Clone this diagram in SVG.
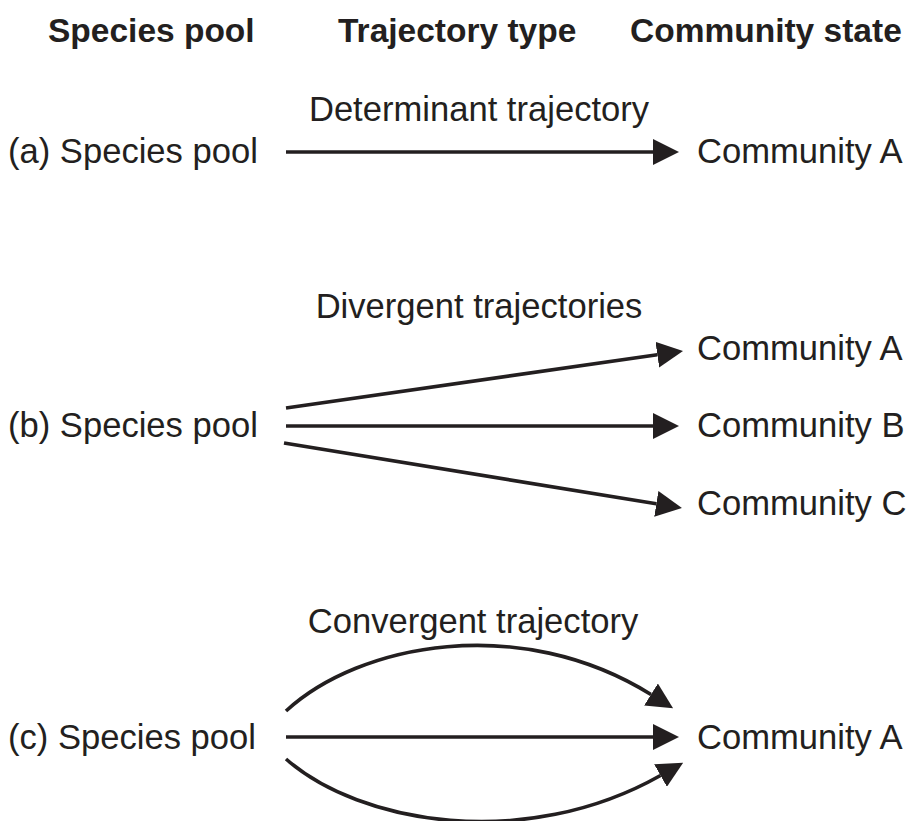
<svg xmlns="http://www.w3.org/2000/svg" width="907" height="821" viewBox="0 0 907 821">
<style>
.h{font-family:"Liberation Sans",Arial,sans-serif;font-weight:bold;font-size:33.5px;fill:#231f20}
.t{font-family:"Liberation Sans",Arial,sans-serif;font-size:34.6px;fill:#231f20}
.m{text-anchor:middle}
.c{fill:none;stroke:#231f20;stroke-width:3.6}
</style>
<defs>
<marker id="ah" viewBox="0 0 26 26" refX="0" refY="13" markerWidth="26" markerHeight="26" markerUnits="userSpaceOnUse" orient="auto">
<path d="M0,0 L26,13 L0,26 z" fill="#231f20"/>
</marker>
</defs>
<rect width="907" height="821" fill="#fff"/>
<g id="headers">
<text class="h" x="48" y="42">Species pool</text>
<text class="h" x="338" y="42">Trajectory type</text>
<text class="h" x="630" y="42">Community state</text>
</g>
<g id="pool-a"><text class="t" x="8" y="163">(a) Species pool</text></g>
<g id="comm-a1"><text class="t" x="697" y="163">Community A</text></g>
<g id="label-a"><text class="t m" x="479" y="121">Determinant trajectory</text></g>
<g id="pool-b"><text class="t" x="8" y="437">(b) Species pool</text></g>
<g id="comm-b1"><text class="t" x="697" y="360">Community A</text></g>
<g id="comm-b2"><text class="t" x="697" y="437">Community B</text></g>
<g id="comm-b3"><text class="t" x="697" y="515">Community C</text></g>
<g id="label-b"><text class="t m" x="479" y="318">Divergent trajectories</text></g>
<g id="pool-c"><text class="t" x="8" y="749">(c) Species pool</text></g>
<g id="comm-c1"><text class="t" x="697" y="749">Community A</text></g>
<g id="label-c"><text class="t m" x="473" y="633">Convergent trajectory</text></g>
<g id="connectors">
<path class="c" marker-end="url(#ah)" d="M286,152 L653,152"/>
<path class="c" marker-end="url(#ah)" d="M286,408 L657.3,354.7"/>
<path class="c" marker-end="url(#ah)" d="M286,426 L653,426"/>
<path class="c" marker-end="url(#ah)" d="M284,443 L656.3,503.8"/>
<path class="c" marker-end="url(#ah)" d="M286,711 C360,643 520,613 651,694.5"/>
<path class="c" marker-end="url(#ah)" d="M286,737 L653,737"/>
<path class="c" marker-end="url(#ah)" d="M286,759 C360,824 525,852 660.5,775.5"/>
</g>
</svg>
